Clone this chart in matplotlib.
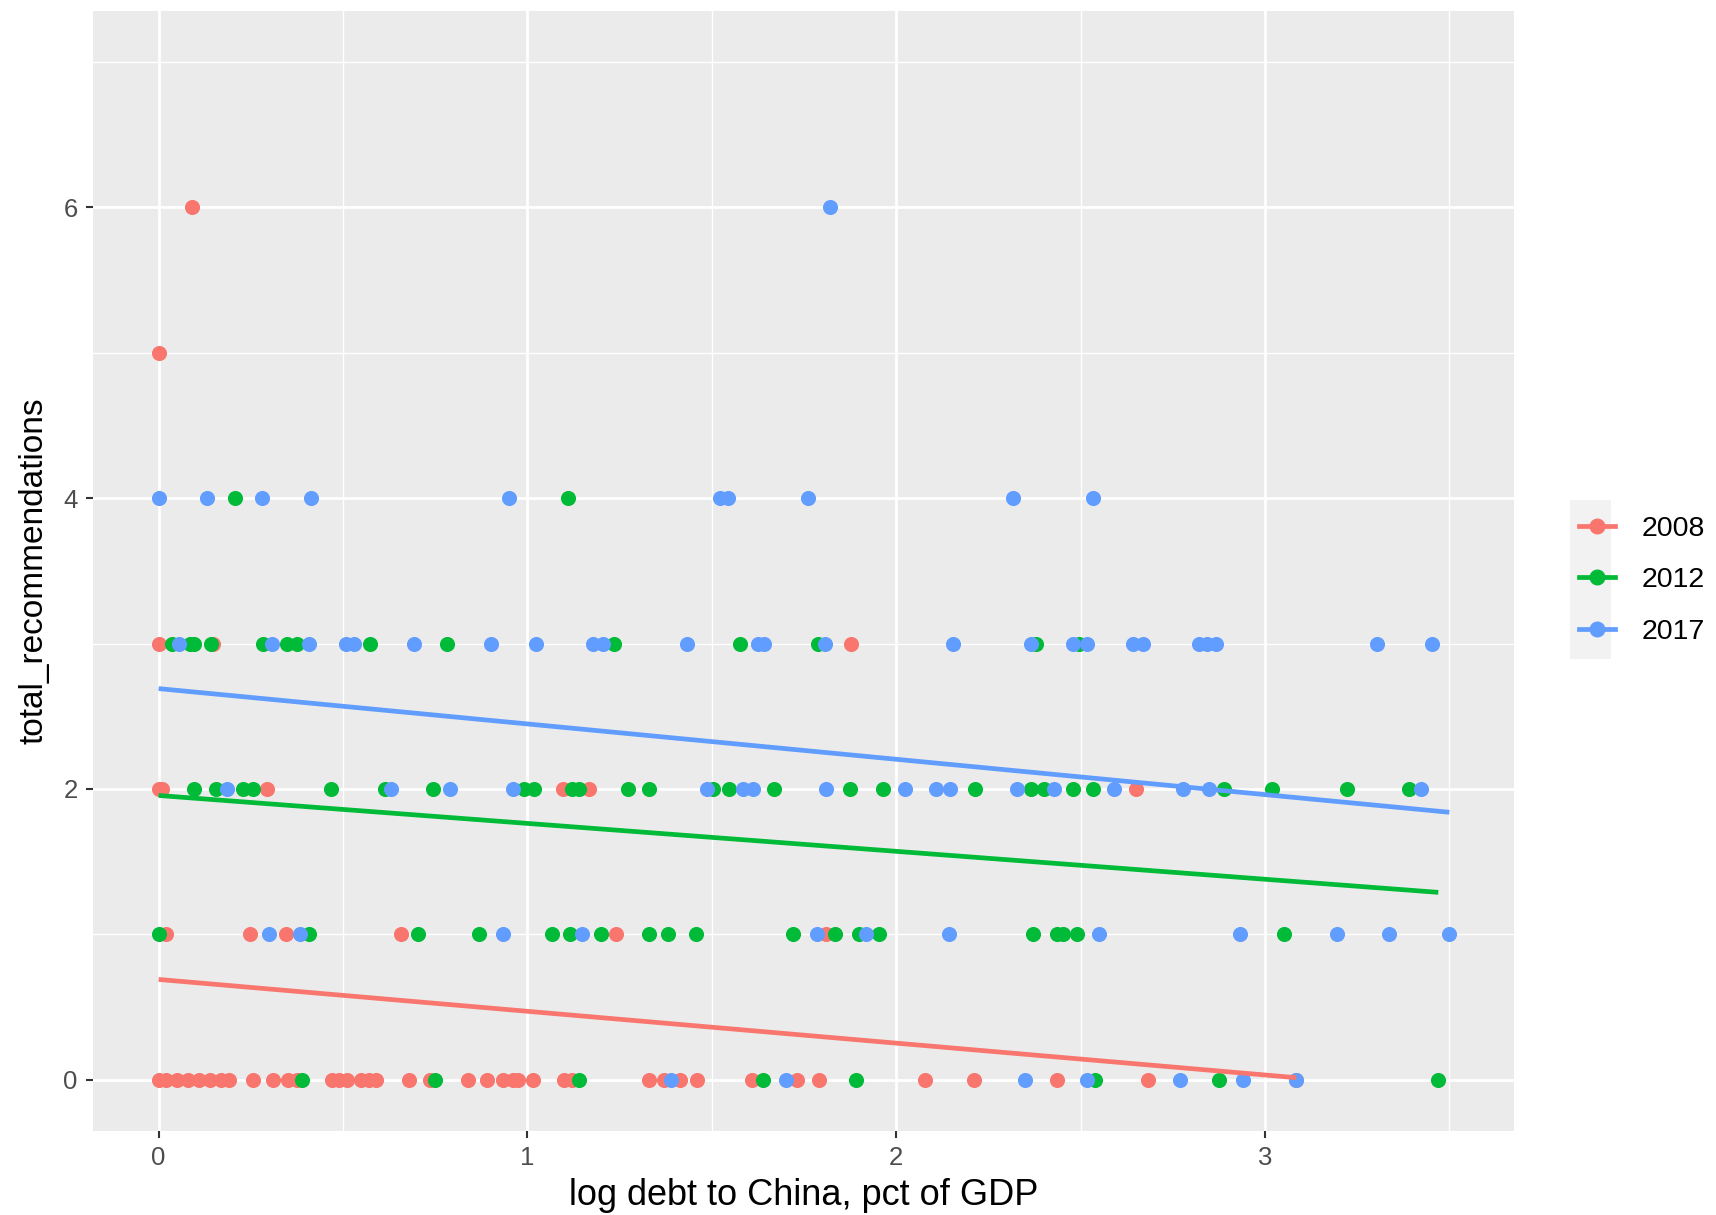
import numpy as np
import matplotlib
matplotlib.use('Agg')
import matplotlib.pyplot as plt
from matplotlib.lines import Line2D
from matplotlib.patches import Rectangle

plt.rcParams['font.family'] = ['Liberation Sans', 'DejaVu Sans']

years = ['2008', '2012', '2017']
colors = ['#F8766D', '#00BA38', '#619CFF']

# log debt to China (x) and total recommendations (y)
x_2008 = [0.0, 0.02, 0.05, 0.08, 0.11, 0.14, 0.17, 0.19, 0.255, 0.31, 0.35, 0.375,
          0.47, 0.49, 0.51, 0.55, 0.57, 0.59, 0.68, 0.735, 0.84, 0.89, 0.935, 0.96,
          0.975, 1.015, 1.10, 1.12, 1.33, 1.37, 1.415, 1.46, 1.61, 1.73, 1.79, 2.077,
          2.21, 2.437, 2.684, 3.085,
          0.02, 0.247, 0.344, 0.656, 1.239, 1.81,
          0.0, 0.01, 0.293, 1.097, 1.166, 2.65,
          0.0, 0.148, 1.878,
          0.0,
          0.09]
y_2008 = [0] * 40 + [1] * 6 + [2] * 6 + [3] * 3 + [5] + [6]

x_2012 = [0.39, 0.75, 1.14, 1.64, 1.89, 2.54, 2.876, 3.47,
          0.0, 0.407, 0.703, 0.869, 1.066, 1.115, 1.20, 1.33, 1.38, 1.456, 1.72,
          1.833, 1.898, 1.953, 2.372, 2.437, 2.453, 2.49, 3.052,
          0.095, 0.155, 0.23, 0.255, 0.468, 0.615, 0.745, 0.99, 1.018, 1.12, 1.14,
          1.273, 1.33, 1.504, 1.546, 1.67, 1.874, 1.964, 2.215, 2.366, 2.40, 2.479,
          2.533, 2.889, 3.019, 3.222, 3.39,
          0.035, 0.086, 0.097, 0.141, 0.283, 0.348, 0.376, 0.572, 0.783, 1.235,
          1.577, 1.789, 2.38, 2.496,
          0.206, 1.11]
y_2012 = [0] * 8 + [1] * 19 + [2] * 27 + [3] * 14 + [4] * 2

x_2017 = [1.39, 1.70, 2.35, 2.518, 2.77, 2.94, 3.085,
          0.30, 0.383, 0.935, 1.149, 1.785, 1.918, 2.144, 2.55, 2.932, 3.196, 3.337, 3.50,
          0.186, 0.63, 0.79, 0.96, 1.487, 1.584, 1.612, 1.81, 2.023, 2.108, 2.147,
          2.327, 2.428, 2.59, 2.777, 2.848, 3.423,
          0.055, 0.307, 0.407, 0.507, 0.53, 0.693, 0.90, 1.022, 1.177, 1.204, 1.432,
          1.626, 1.642, 1.808, 2.155, 2.366, 2.479, 2.518, 2.642, 2.67, 2.822, 2.844,
          2.867, 3.303, 3.454,
          0.0, 0.131, 0.279, 0.413, 0.949, 1.522, 1.543, 1.761, 2.318, 2.533,
          1.82]
y_2017 = [0] * 7 + [1] * 12 + [2] * 17 + [3] * 25 + [4] * 10 + [6]

# linear fit per year (intercept, slope) as drawn in the chart
fit_intercept = [0.69, 1.955, 2.69]
fit_slope = [-0.219, -0.192, -0.243]

xs = [x_2008, x_2012, x_2017]
ys = [y_2008, y_2012, y_2017]

fig = plt.figure(figsize=(17.16, 12.15), dpi=100)
ax = fig.add_axes([0.0542, 0.0694, 0.8278, 0.9216])
ax.set_facecolor('#EBEBEB')

for x, y, c in zip(xs, ys, colors):
    ax.scatter(x, y, s=118, color=c, linewidths=0, zorder=3)

for x, c, b0, b1 in zip(xs, colors, fit_intercept, fit_slope):
    line_x = np.array([min(x), max(x)])
    ax.plot(line_x, b0 + b1 * line_x, color=c, lw=3.4, zorder=4,
            solid_capstyle='butt')

ax.set_xlim(-0.178, 3.674)
ax.set_ylim(-0.35, 7.35)
ax.set_xticks([0, 1, 2, 3])
ax.set_yticks([0, 2, 4, 6])
ax.set_xticks([0.5, 1.5, 2.5, 3.5], minor=True)
ax.set_yticks([1, 3, 5, 7], minor=True)
ax.grid(which='major', color='white', lw=2.0)
ax.grid(which='minor', color='white', lw=1.0)
ax.set_axisbelow(True)
for s in ax.spines.values():
    s.set_visible(False)
ax.tick_params(which='major', length=5, width=1.5, color='#333333',
               labelsize=18.5, labelcolor='#4D4D4D', pad=6)
ax.tick_params(which='minor', length=0)

ax.set_xlabel('log debt to China, pct of GDP', fontsize=26, labelpad=6)
ax.set_ylabel('total_recommendations', fontsize=24, labelpad=10)

# legend key background
fig.add_artist(Rectangle((0.9152, 0.4577), 0.0236, 0.1306,
                         transform=fig.transFigure, facecolor='#F2F2F2',
                         edgecolor='none'))
handles = [Line2D([], [], color=c, lw=3.4, marker='o', markersize=10.5)
           for c in colors]
fig.legend(handles, years, loc='center left', bbox_to_anchor=(0.912, 0.5225),
           frameon=False, fontsize=20.5, handlelength=1.25, handletextpad=0.95,
           labelspacing=0.9, borderpad=0)

fig.savefig('out.png', dpi=100)
